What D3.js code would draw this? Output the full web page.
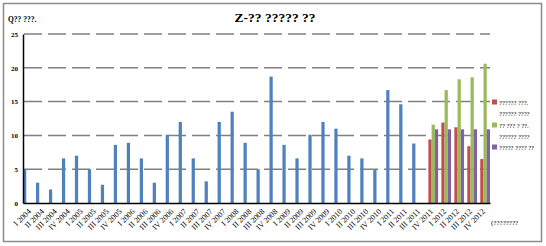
<!DOCTYPE html>
<html>
<head>
<meta charset="utf-8">
<script src="https://cdn.jsdelivr.net/npm/d3@7"></script>
<style>
  html, body { margin: 0; padding: 0; background: #fff; }
  svg { display: block; font-family: "Liberation Serif", "DejaVu Serif", serif; }
</style>
</head>
<body>
<svg id="chart" width="546" height="246"></svg>
<script>
// data
const categories = [
  'I 2004', 'II 2004', 'III 2004', 'IV 2004',
  'I 2005', 'II 2005', 'III 2005', 'IV 2005',
  'I 2006', 'II 2006', 'III 2006', 'IV 2006',
  'I 2007', 'II 2007', 'III 2007', 'IV 2007',
  'I 2008', 'II 2008', 'III 2008', 'IV 2008',
  'I 2009', 'II 2009', 'III 2009', 'IV 2009',
  'I 2010', 'II 2010', 'III 2010', 'IV 2010',
  'I 2011', 'II 2011', 'III 2011', 'IV 2011',
  'I 2012', 'II 2012', 'III 2012', 'IV 2012'
];

const blueValues = [
  5.0, 3.0, 2.0, 6.6, 7.0, 5.0, 2.7, 8.6, 8.9, 6.6, 3.0, 10.1,
  12.0, 6.6, 3.2, 12.0, 13.5, 8.9, 5.0, 18.7, 8.6, 6.6, 10.1, 12.0,
  11.0, 7.0, 6.6, 4.9, 16.7, 14.6, 8.8, null, null, null, null, null
];
const redValues = [
  null, null, null, null, null, null, null, null, null, null, null, null,
  null, null, null, null, null, null, null, null, null, null, null, null,
  null, null, null, null, null, null, null, 9.4, 11.9, 11.2, 8.4, 6.5
];
const greenValues = [
  null, null, null, null, null, null, null, null, null, null, null, null,
  null, null, null, null, null, null, null, null, null, null, null, null,
  null, null, null, null, null, null, null, 11.6, 16.7, 18.3, 18.6, 20.6
];
const purpleValues = [
  null, null, null, null, null, null, null, null, null, null, null, null,
  null, null, null, null, null, null, null, null, null, null, null, null,
  null, null, null, null, null, null, null, 10.9, 10.9, 10.9, 10.9, 10.9
];

const yTicks = [0, 5, 10, 15, 20, 25];
const title = 'Z-?? ????? ??';
const yTitle = 'Q?? ???.';
const xTitle = '(????????';
const legendItems = [
  { key: 'red', lines: ['?????? ???.', '?????? ????'] },
  { key: 'green', lines: ['?? ??? ? ??.', '?????? ????'] },
  { key: 'purple', lines: ['????? ???? ??'] }
];

const seriesKeys = ['blue', 'red', 'green', 'purple'];
const seriesValues = { blue: blueValues, red: redValues, green: greenValues, purple: purpleValues };
const colors = { blue: '#4F81BD', red: '#C0504D', green: '#9BBB59', purple: '#8064A2' };

const svg = d3.select('#chart');

// outer frame
svg.append('rect')
  .attr('x', 3.5).attr('y', 3.5)
  .attr('width', 538).attr('height', 238)
  .attr('fill', '#fff')
  .attr('stroke', '#8c8c8c')
  .attr('stroke-width', 1.5);

const plot = { left: 23, right: 490, top: 34, bottom: 203 };

const x = d3.scaleBand()
  .domain(categories)
  .range([plot.left, plot.right])
  .padding(0);

const xs = d3.scaleBand()
  .domain(seriesKeys)
  .range([0, x.bandwidth()])
  .padding(0);

const y = d3.scaleLinear()
  .domain([0, 25])
  .range([plot.bottom, plot.top]);

// gridlines
svg.append('g')
  .selectAll('line')
  .data(yTicks.filter(d => d > 0))
  .enter()
  .append('line')
  .attr('x1', plot.left + 1)
  .attr('x2', plot.right)
  .attr('y1', d => y(d))
  .attr('y2', d => y(d))
  .attr('stroke', '#808080')
  .attr('stroke-width', 1.5)
  .attr('stroke-dasharray', '18,6');

// bars
const rows = [];
seriesKeys.forEach(k => {
  seriesValues[k].forEach((v, i) => {
    if (v != null) rows.push({ key: k, cat: categories[i], value: v });
  });
});

svg.append('g')
  .selectAll('rect')
  .data(rows)
  .enter()
  .append('rect')
  .attr('x', d => x(d.cat) + xs(d.key))
  .attr('y', d => y(d.value))
  .attr('width', xs.bandwidth())
  .attr('height', d => y(0) - y(d.value))
  .attr('fill', d => colors[d.key]);

// axes
const yAxis = g => g
  .attr('transform', `translate(${plot.left},0)`)
  .call(d3.axisLeft(y).tickValues(yTicks).tickSize(0).tickPadding(5));

const xAxis = g => g
  .attr('transform', `translate(0,${plot.bottom})`)
  .call(d3.axisBottom(x).tickSize(0).tickPadding(0));

const gy = svg.append('g').call(yAxis);
gy.select('.domain').attr('stroke', '#000').attr('stroke-width', 1.5);
gy.selectAll('text')
  .attr('font-family', '"Liberation Serif", serif')
  .attr('font-size', 7)
  .attr('font-weight', 'bold')
  .attr('fill', '#000');

const gx = svg.append('g').call(xAxis);
gx.select('.domain').attr('stroke', '#000').attr('stroke-width', 1.5);
gx.selectAll('text')
  .attr('font-family', '"Liberation Serif", serif')
  .attr('font-size', 8)
  .attr('fill', '#000')
  .attr('text-anchor', 'end')
  .attr('dy', 0)
  .attr('transform', 'translate(2,9) rotate(-45)');

// titles
svg.append('text')
  .attr('x', 275).attr('y', 22)
  .attr('text-anchor', 'middle')
  .attr('font-size', 13.5)
  .attr('font-weight', 'bold')
  .text(title);

svg.append('text')
  .attr('x', 8).attr('y', 22)
  .attr('font-size', 7.5)
  .attr('font-weight', 'bold')
  .text(yTitle);

svg.append('text')
  .attr('x', 491).attr('y', 225)
  .attr('font-size', 7)
  .text(xTitle);

// legend
const legendY = [102, 125, 147];
const legend = svg.append('g')
  .selectAll('g')
  .data(legendItems)
  .enter()
  .append('g')
  .attr('transform', (d, i) => `translate(492,${legendY[i]})`);

legend.append('rect')
  .attr('x', 0).attr('y', -2.5)
  .attr('width', 5).attr('height', 5)
  .attr('fill', d => colors[d.key]);

legend.each(function(d) {
  d3.select(this).selectAll('text')
    .data(d.lines)
    .enter()
    .append('text')
    .attr('x', 7)
    .attr('y', (t, j) => 2.5 + j * 11)
    .attr('font-size', 6.5)
    .text(t => t);
});
</script>
</body>
</html>
